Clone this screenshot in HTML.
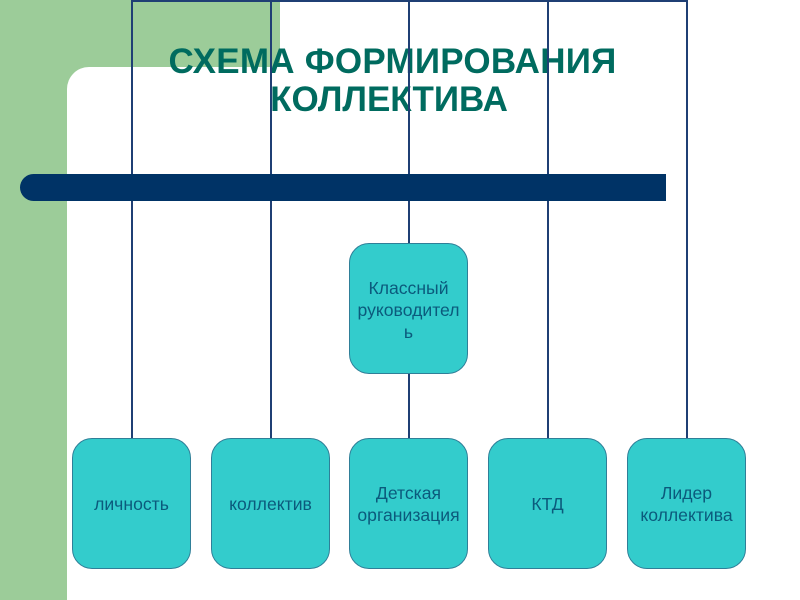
<!DOCTYPE html>
<html><head><meta charset="utf-8"><style>
html,body{margin:0;padding:0;background:#fff}
#p{position:relative;width:800px;height:600px;overflow:hidden;background:#fff;font-family:"Liberation Sans",sans-serif}
#p div{position:absolute}
.b{box-sizing:border-box;width:119px;height:131px;background:#33CCCC;border:1px solid #2F7F98;border-radius:20px;display:flex;align-items:center;justify-content:center;text-align:center;color:#0B5A7C;font-size:17.6px;line-height:22px}
.t{width:600px;text-align:center;color:#006B5F;font-weight:bold;font-size:35px;line-height:38px;white-space:nowrap}
.l{width:2px;background:#1F3F74}
</style></head><body><div id="p">
<div style="left:0;top:0;width:67px;height:600px;background:#9CCC99"></div>
<div style="left:0;top:0;width:280px;height:67px;background:#9CCC99"></div>
<div style="left:67px;top:67px;width:40px;height:40px;background:#9CCC99"></div>
<div style="left:67px;top:67px;width:60px;height:60px;background:#fff;border-radius:22px 0 0 0"></div>
<div class="t" style="left:92.5px;top:43px;letter-spacing:.25px">СХЕМА ФОРМИРОВАНИЯ</div>
<div class="t" style="left:89px;top:81px">КОЛЛЕКТИВА</div>
<div class="l" style="left:131px;top:0;height:438px"></div>
<div class="l" style="left:269.5px;top:0;height:438px"></div>
<div class="l" style="left:408px;top:0;height:438px"></div>
<div class="l" style="left:547px;top:0;height:438px"></div>
<div class="l" style="left:685.5px;top:0;height:438px"></div>
<div style="left:131px;top:0;width:556.5px;height:2px;background:#1F3F74"></div>
<div style="left:20px;top:174px;width:646px;height:27px;background:#003366;border-radius:14px 0 0 14px"></div>
<div class="b" style="left:349px;top:243px;padding-top:2px">Классный<br>руководител<br>ь</div>
<div class="b" style="left:72px;top:438px">личность</div>
<div class="b" style="left:211px;top:438px">коллектив</div>
<div class="b" style="left:349px;top:438px">Детская<br>организация</div>
<div class="b" style="left:488px;top:438px">КТД</div>
<div class="b" style="left:627px;top:438px">Лидер<br>коллектива</div>
</div></body></html>
